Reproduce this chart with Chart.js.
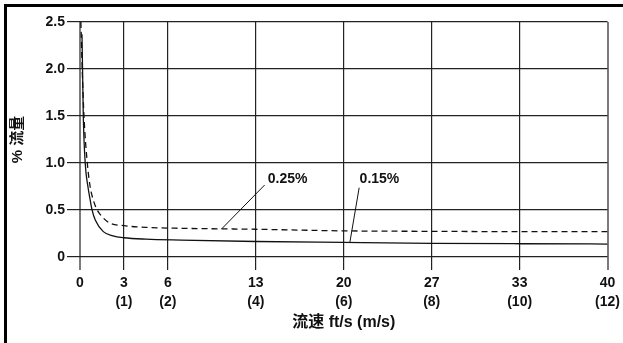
<!DOCTYPE html>
<html>
<head>
<meta charset="utf-8">
<script src="https://cdn.jsdelivr.net/npm/chart.js@4"></script>
<style>
  html, body { margin: 0; padding: 0; background: #fff; }
  #wrap { position: relative; width: 623px; height: 343px; overflow: hidden; }
  #frame {
    position: absolute; left: 4px; top: 4px; width: 640px; height: 336px;
    border-left: 3px solid #000; border-top: 3px solid #000; border-bottom: 3px solid #000;
    pointer-events: none;
  }
  canvas { position: absolute; left: 0; top: 0; }
</style>
</head>
<body>
<div id="wrap">
  <canvas id="c" width="623" height="343"></canvas>
  <div id="frame"></div>
</div>
<script>
// Velocity axis: gridlines at these m/s values, labelled in ft/s with m/s below
const tickMs = [0, 1, 2, 4, 6, 8, 10, 12];
const tickFt = ['0', '3', '6', '13', '20', '27', '33', '40'];
const yTickValues = [0, 0.5, 1.0, 1.5, 2.0, 2.5];
const yTickLabels = ['0', '0.5', '1.0', '1.5', '2.0', '2.5'];

// 0.15% curve (solid)
const solidSpeed = [0.045, 0.058, 0.075, 0.12, 0.18, 0.23, 0.27, 0.35, 0.53, 0.75, 1, 1.5, 2.3, 4, 6, 8, 10, 12];
const solidFlow  = [2.37, 2.0, 1.5, 0.99, 0.75, 0.61, 0.51, 0.39, 0.27, 0.225, 0.205, 0.19, 0.18, 0.165, 0.155, 0.146, 0.141, 0.138];

// 0.25% curve (dashed)
const dashSpeed = [0.02, 0.05, 0.09, 0.166, 0.23, 0.30, 0.38, 0.5, 0.68, 1, 1.5, 2.3, 4, 6, 8, 10, 12];
const dashFlow  = [2.5, 2.0, 1.5, 1.0, 0.75, 0.61, 0.51, 0.43, 0.36, 0.333, 0.315, 0.305, 0.295, 0.278, 0.273, 0.27, 0.27];

// Callout labels with leader lines (data units: m/s, %)
const calloutText = ['0.25%', '0.15%'];
const calloutTextAt = [[4.27, 0.83], [6.36, 0.83]];
const calloutFrom = [[4.2, 0.766], [6.35, 0.737]];
const calloutTo = [[3.22, 0.298], [6.14, 0.16]];

const FONT = "'Liberation Sans', 'Noto Sans CJK SC', sans-serif";

const pts = (xs, ys) => xs.map((x, i) => ({ x, y: ys[i] }));

const callouts = {
  id: 'callouts',
  afterDatasetsDraw(chart) {
    const { ctx, scales: { x, y } } = chart;
    ctx.save();
    ctx.strokeStyle = '#111';
    ctx.lineWidth = 1;
    ctx.fillStyle = '#111';
    ctx.font = 'bold 14px ' + FONT;
    ctx.textAlign = 'left';
    ctx.textBaseline = 'middle';
    calloutText.forEach((t, i) => {
      ctx.beginPath();
      ctx.moveTo(x.getPixelForValue(calloutFrom[i][0]), y.getPixelForValue(calloutFrom[i][1]));
      ctx.lineTo(x.getPixelForValue(calloutTo[i][0]), y.getPixelForValue(calloutTo[i][1]));
      ctx.stroke();
      ctx.fillText(t, x.getPixelForValue(calloutTextAt[i][0]), y.getPixelForValue(calloutTextAt[i][1]));
    });
    ctx.restore();
  }
};

const edge = (v, lo, hi) => v === lo || v === hi;

new Chart(document.getElementById('c'), {
  type: 'line',
  data: {
    datasets: [
      {
        label: '0.15%',
        data: pts(solidSpeed, solidFlow),
        borderColor: '#111',
        borderWidth: 1.3,
        pointRadius: 0,
        cubicInterpolationMode: 'monotone',
        fill: false
      },
      {
        label: '0.25%',
        data: pts(dashSpeed, dashFlow),
        borderColor: '#111',
        borderWidth: 1.3,
        borderDash: [6, 4],
        pointRadius: 0,
        cubicInterpolationMode: 'monotone',
        fill: false
      }
    ]
  },
  options: {
    responsive: false,
    animation: false,
    layout: { padding: { left: 0, right: 15, top: 22, bottom: 0 } },
    plugins: { legend: { display: false }, tooltip: { enabled: false } },
    scales: {
      x: {
        type: 'linear',
        min: 0,
        max: 12,
        afterFit(s) { s.height = 86; },
        afterBuildTicks(s) { s.ticks = tickMs.map(v => ({ value: v })); },
        border: { display: false },
        grid: {
          drawOnChartArea: true,
          tickLength: 13,
          color: c => edge(c.tick.value, 0, 12) ? '#7a7a7a' : '#222',
          lineWidth: c => edge(c.tick.value, 0, 12) ? 2 : 1.2
        },
        ticks: {
          autoSkip: false,
          maxRotation: 0,
          padding: 3,
          color: '#111',
          font: { family: FONT, size: 14, weight: 'bold', lineHeight: 1.4 },
          callback: v => {
            const i = tickMs.indexOf(v);
            if (i < 0) return '';
            return v === 0 ? tickFt[i] : [tickFt[i], '(' + v + ')'];
          }
        },
        title: {
          display: true,
          text: '流速 ft/s (m/s)',
          color: '#111',
          font: { family: FONT, size: 16, weight: 'bold' },
          padding: { top: 0, bottom: 11 }
        }
      },
      y: {
        min: 0,
        max: 2.5,
        afterFit(s) { s.width = 80; },
        afterBuildTicks(s) { s.ticks = yTickValues.map(v => ({ value: v })); },
        border: { display: false },
        grid: {
          tickLength: 13,
          color: '#222',
          lineWidth: 1.2
        },
        ticks: {
          padding: 2,
          color: '#111',
          font: { family: FONT, size: 14, weight: 'bold' },
          callback: v => {
            const i = yTickValues.indexOf(v);
            return i < 0 ? '' : yTickLabels[i];
          }
        },
        title: {
          display: true,
          text: '% 流量',
          color: '#111',
          font: { family: FONT, size: 15, weight: 'bold' },
          padding: { top: 9, bottom: 0 }
        }
      }
    }
  },
  plugins: [callouts]
});
</script>
</body>
</html>
